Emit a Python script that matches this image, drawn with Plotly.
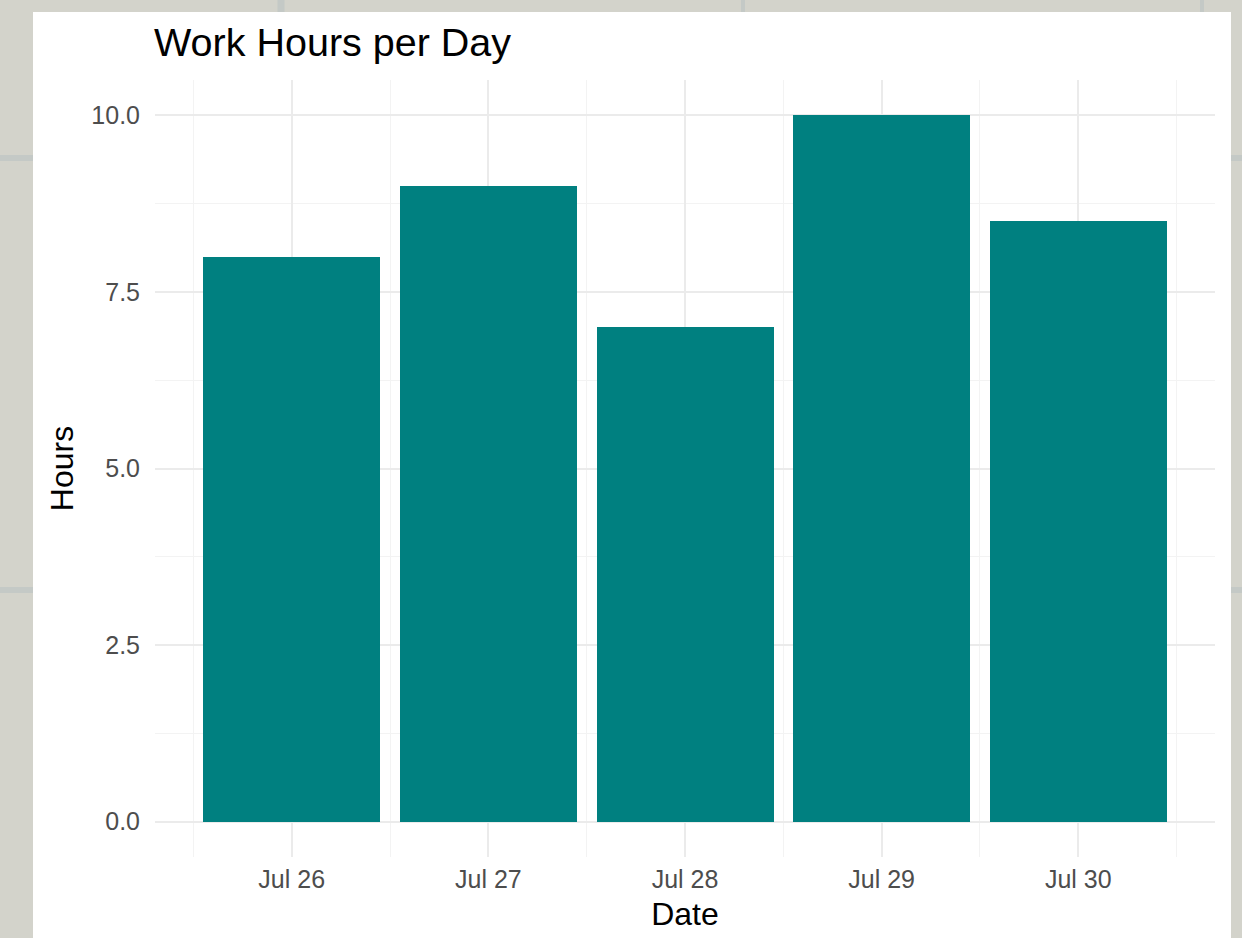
import plotly.graph_objects as go

# ---- data ----
dates = ["2024-07-26", "2024-07-27", "2024-07-28", "2024-07-29", "2024-07-30"]
hours = [8, 9, 7, 10, 8.5]

title_text = "Work Hours per Day"
x_label = "Date"
y_label = "Hours"
y_ticks = [0, 2.5, 5, 7.5, 10]

# ---- layout geometry (pixels) ----
W, H = 1242, 938
PL, PR, PT, PB = 155, 1215, 80, 857  # plot area edges

def px_x(p):
    return (p - PL) / (PR - PL)

def px_y(p):
    return (PB - p) / (PB - PT)

DAY_MS = 86400000
FONT = "Liberation Sans, Arial, Helvetica, sans-serif"

fig = go.Figure()
fig.add_trace(go.Bar(
    x=dates, y=hours,
    width=0.9 * DAY_MS,
    marker=dict(color="#008080", line=dict(width=0)),
    hoverinfo="x+y",
))

# background page decorations (outside the white panel)
shapes = []
bg_line = "#c4c9c6"
for xp, w in [(281, 7), (743, 4), (1202, 4)]:
    shapes.append(dict(type="line", xref="paper", yref="paper",
                       x0=px_x(xp), x1=px_x(xp), y0=px_y(0), y1=px_y(H),
                       line=dict(color=bg_line, width=w), layer="below"))
for yp, w in [(158, 6), (590, 6)]:
    shapes.append(dict(type="line", xref="paper", yref="paper",
                       x0=px_x(0), x1=px_x(W), y0=px_y(yp), y1=px_y(yp),
                       line=dict(color=bg_line, width=w), layer="below"))
# white panel
shapes.append(dict(type="rect", xref="paper", yref="paper",
                   x0=px_x(33), x1=px_x(1231), y0=px_y(12), y1=px_y(H + 5),
                   fillcolor="white", line=dict(width=0), layer="below"))

fig.update_layout(
    width=W, height=H,
    margin=dict(l=PL, r=W - PR, t=PT, b=H - PB, pad=0),
    paper_bgcolor="#d3d3cb",
    plot_bgcolor="white",
    showlegend=False,
    shapes=shapes,
    font=dict(family=FONT, color="#4d4d4d"),
    title=dict(text=title_text, x=154 / W, xanchor="left", xref="container",
               y=1 - 42 / H, yanchor="middle", yref="container",
               font=dict(size=39.5, color="black", family=FONT)),
    bargap=0,
)

fig.update_xaxes(
    type="date",
    range=["2024-07-25 07:19:12", "2024-07-30 16:40:48"],
    tickmode="linear", tick0="2024-07-26", dtick=DAY_MS,
    tickformat="%b %d",
    showgrid=True, gridcolor="#ebebeb", gridwidth=2,
    minor=dict(tick0="2024-07-25 12:00", dtick=DAY_MS, showgrid=True,
               gridcolor="#f3f3f3", gridwidth=1.2),
    zeroline=False, showline=False, ticks="",
    tickfont=dict(size=25, color="#4d4d4d"),
    ticklabelstandoff=5,
    title=dict(text=x_label, font=dict(size=32, color="black"), standoff=10),
    fixedrange=True,
)
fig.update_yaxes(
    range=[-0.5, 10.5],
    tickmode="array", tickvals=y_ticks,
    tickformat=".1f",
    showgrid=True, gridcolor="#ebebeb", gridwidth=2,
    minor=dict(tick0=0, dtick=1.25, showgrid=True,
               gridcolor="#f3f3f3", gridwidth=1.2),
    zeroline=False, showline=False, ticks="",
    tickfont=dict(size=25, color="#4d4d4d"),
    ticklabelstandoff=14,
    title=dict(text=y_label, font=dict(size=32, color="black"), standoff=8),
    fixedrange=True,
)

fig.write_html(
    "out.html",
    config={"displayModeBar": False},
    post_script="document.body.style.margin='0';document.body.style.overflow='hidden';",
)
